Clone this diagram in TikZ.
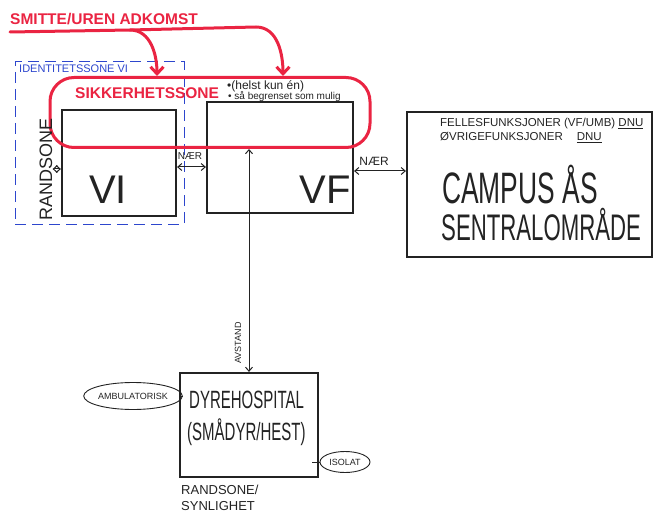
\documentclass[tikz,border=0pt]{standalone}
\usepackage{fontspec}
\setmainfont{Liberation Sans}
\newfontfamily\narrowfont[FakeStretch=0.6]{Liberation Sans}
\usetikzlibrary{arrows.meta,shapes.geometric}
\definecolor{zonered}{RGB}{234,36,66}
\definecolor{zoneblue}{RGB}{45,70,205}
\definecolor{ink}{RGB}{35,35,35}
\newcommand\sz[2]{\fontsize{#1}{#2}\selectfont}
\begin{document}
\begin{tikzpicture}[x=1pt, y=-1pt,
  txt/.style={inner sep=0pt, text=ink},
  box/.style={draw=ink, line width=2.2pt, inner sep=0pt},
  zone/.style={draw=zonered, line width=3pt, rounded corners=24pt, inner sep=0pt},
  idzone/.style={draw=zoneblue, line width=1pt, dash pattern=on 11pt off 6pt, inner sep=0pt},
  link/.style={draw=ink, line width=1pt, {Straight Barb[length=4pt,width=7pt]}-{Straight Barb[length=4pt,width=7pt]}},
  infect/.style={draw=zonered, line width=3pt, line cap=round, -{Straight Barb[length=7pt,width=13pt]}},
  bubble/.style={ellipse, draw=ink, line width=0.9pt, inner sep=0pt, text=ink, font=\sz{9}{10}}]
\useasboundingbox (0,0) rectangle (656,516);
% identity zone around VI
\node[idzone, minimum width=169pt, minimum height=162pt] (idzone) at (99.5,143) {};
\node[txt, anchor=base west, text=zoneblue, font=\sz{11}{13}] (idlabel) at (19,73) {IDENTITETSSONE VI};
% buildings
\node[box, minimum width=114pt, minimum height=106pt] (vi) at (119,163) {};
\node[box, minimum width=146pt, minimum height=111pt] (vf) at (280,157.5) {};
\node[box, minimum width=245pt, minimum height=145pt] (campus) at (529.5,184.5) {};
\node[box, minimum width=138pt, minimum height=104pt] (dyre) at (249,425) {};
\node[txt, anchor=base, font=\sz{40}{40}] (vilabel) at (108,203) {VI};
\node[txt, anchor=base, font=\sz{40}{40}] (vflabel) at (325,204) {VF};
% security zone
\node[zone, minimum width=320pt, minimum height=70pt] (sikker) at (210,112.5) {};
\node[txt, anchor=base west, text=zonered, font=\bfseries\sz{15.5}{18}] (sikkerlabel) at (75,99) {SIKKERHETSSONE};
\node[txt, anchor=base west, font=\sz{12}{14}] (rule1) at (227,90) {\textbullet(helst kun én)};
\node[txt, anchor=base west, font=\sz{10}{12}] (rule2) at (228,100) {\textbullet\ så begrenset som mulig};
% infected access
\node[txt, anchor=base west, text=zonered, font=\bfseries\sz{15.5}{18}] (smitte) at (10,25) {SMITTE/UREN ADKOMST};
\coordinate (smitteline) at (10,32);
\coordinate (fork) at (130,30);
\coordinate (bend) at (256,27);
\coordinate (drop1) at (157,0);
\coordinate (drop2) at (283,0);
\draw[infect] (smitteline) -- (fork) -- (bend) to[out=0,in=90] (sikker.north -| drop2);
\draw[infect] (fork) to[out=0,in=90] (sikker.north -| drop1);
% edge zone
\node[txt, rotate=90, font=\sz{18}{20}] (randsone) at (46,169) {RANDSONE};
\draw[link] (randsone.south) -- (randsone.south -| vi.west);
% near
\draw[link] ([yshift=-4pt]vi.east) -- ([yshift=-4pt]vi.east -| vf.west);
\node[txt, anchor=base, font=\sz{10}{12}] (naer1) at (190,160) {NÆR};
\draw[link] ([yshift=-13.5pt]vf.east) -- ([yshift=-13.5pt]vf.east -| campus.west);
\node[txt, anchor=base, font=\sz{12}{14}] (naer2) at (374,166) {NÆR};
% campus
\node[txt, anchor=base west, font=\sz{11.5}{13}] (felles) at (440,127) {FELLESFUNKSJONER (VF/UMB) \underline{DNU}};
\node[txt, anchor=base west, font=\sz{11.5}{13}] (ovrige) at (440,141) {ØVRIGEFUNKSJONER\hspace{14pt}\underline{DNU}};
\node[txt, anchor=base west, font=\narrowfont\sz{44}{44}] (campusname) at (442,203) {CAMPUS ÅS};
\node[txt, anchor=base west, font=\narrowfont\sz{37}{40}] (sentral) at (441,240) {SENTRALOMRÅDE};
% distance to animal hospital
\draw[link] (sikker.south -| dyre.north) -- (dyre.north);
\node[txt, rotate=90, font=\sz{9}{11}] (avstand) at (238,343) {AVSTAND};
\node[txt, anchor=base west, font=\narrowfont\sz{25}{28}] (dyrelabel) at (189,408) {DYREHOSPITAL};
\node[txt, anchor=base west, font=\narrowfont\sz{25}{28}] (dyresub) at (187,440) {(SMÅDYR/HEST)};
\node[bubble, minimum width=80pt, minimum height=27pt] (ambu) at (133,396) {AMBULATORISK};
\draw[ink, line width=0.9pt] (ambu.east) -- (ambu.east -| dyre.west);
\node[bubble, minimum width=50pt, minimum height=21pt] (isolat) at (345,462) {ISOLAT};
\draw[ink, line width=0.9pt] (isolat.west) -- ([xshift=-7pt]isolat.west -| dyre.east);
\node[txt, anchor=north west, align=left, font=\sz{13}{15.5}] (synlig) at (181,485) {RANDSONE/\\SYNLIGHET};
\end{tikzpicture}
\end{document}
